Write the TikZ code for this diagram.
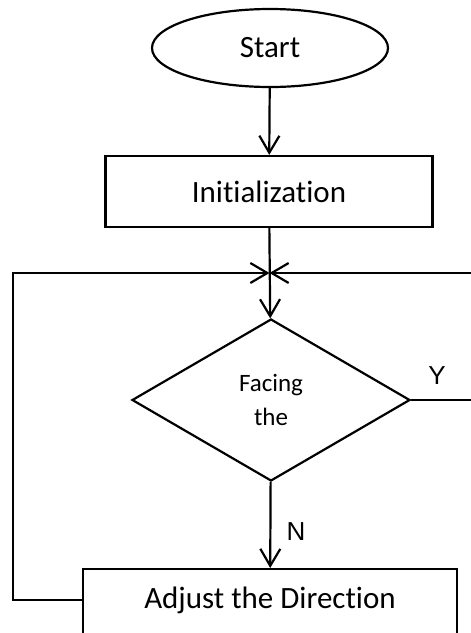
\documentclass[tikz,border=0pt]{standalone}
\usepackage{fontspec}
\setmainfont{Carlito}[Ligatures=NoCommon]
\newfontfamily\branchfont{Liberation Sans}
\usetikzlibrary{arrows.meta,positioning,shapes.geometric}

\begin{document}
\begin{tikzpicture}[x=1pt, y=-1pt, line width=2.2pt,
  terminal/.style={draw, ellipse, minimum width=236pt, minimum height=78pt, inner sep=0pt, font=\fontsize{31}{37}\selectfont},
  process/.style={draw, rectangle, minimum width=327pt, minimum height=71pt, inner sep=0pt, font=\fontsize{31}{37}\selectfont},
  decision/.style={draw, diamond, minimum width=278pt, minimum height=162pt, inner sep=0pt, align=center, font=\fontsize{25}{34}\selectfont},
  branch/.style={font=\branchfont\fontsize{26}{30}\selectfont, anchor=base, inner sep=0pt},
  flow/.style={-{Straight Barb[length=17pt,width=20pt]}}
]
  \useasboundingbox (0,0) rectangle (471,633);
  \clip (0,0) rectangle (471,633);

  \node[terminal] (start) at (270,48) {Start};
  \node[process] (init) at (269,191.5) {Initialization};
  \node[decision] (check) at (271,400) {Facing\\the};
  \node[process, anchor=north, minimum width=374pt, minimum height=90pt, text height=22pt, text depth=34pt] (adjust) at (270,568) {Adjust the Direction};

  \coordinate (merge) at (269.5,273);
  \coordinate (loopL) at (13,273);
  \coordinate (loopR) at (480,273);
  \coordinate (yes) at (480,400);

  \node[branch] (yLbl) at (437,384) {Y};
  \node[branch] (nLbl) at (296,540) {N};

  % main flow
  \draw[flow] (start) -- (init);
  \draw[flow] (init) -- (check);
  \draw[flow] (check) -- (adjust);
  \draw (check) -- (yes);

  % loops back
  \draw[flow] (loopR) -- (merge);
  \draw[flow] ([yshift=-32pt]adjust.north west) -| (loopL) -- (merge);
\end{tikzpicture}
\end{document}
